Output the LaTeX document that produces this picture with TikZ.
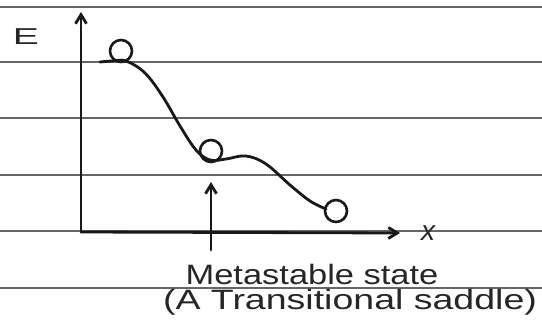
\documentclass[tikz,border=0pt]{standalone}
\usepackage{fontspec}
\setmainfont{Liberation Sans}
\usetikzlibrary{arrows.meta}
\begin{document}
\begin{tikzpicture}[x=1pt,y=-1pt,
  rule/.style={draw=black!60, line width=1.8pt},
  ink/.style={draw=black!90, line width=2.8pt, line cap=round, line join=round},
  ball/.style={circle, draw=black!90, line width=2.6pt, inner sep=0pt, minimum size=22pt},
  hand/.style={font=\fontsize{28}{30}\selectfont, text=black!85, inner sep=0pt},
  tip/.style={-{Straight Barb[length=9pt,width=11pt]}}]
\useasboundingbox (0,0) rectangle (542,329);
\fill[white] (0,0) rectangle (542,329);
% ruled paper lines
\foreach \yy in {7,62,118,175,231,288} \draw[rule] (0,\yy) -- (542,\yy);
% axes
\coordinate (origin) at (81,232);
\coordinate (ytop) at (81,12);
\coordinate (xend) at (400,233);
\draw[ink, tip] (origin) -- (ytop);
\draw[ink, tip] (origin) -- (xend);
\node[hand, font=\fontsize{23}{24}\selectfont] (E) at (26,37) {\scalebox{1.7}[1]{E}};
\node[hand, font=\itshape\fontsize{28}{30}\selectfont] (x) at (428,233) {x};
% energy curve
\draw[ink] plot[smooth, tension=0.6] coordinates {(100,62) (112,61) (126,61) (145,73) (163,97) (180,126) (196,150) (210,160) (226,159) (246,156) (266,164) (290,185) (310,201) (326,209)};
% balls
\node[ball] (b1) at (121,51) {};
\node[ball] (b2) at (211,151) {};
\node[ball] (b3) at (336,211) {};
% metastable pointer
\coordinate (mbot) at (211,250);
\coordinate (mtop) at (211,182);
\draw[ink, tip] (mbot) -- (mtop);
\node[hand] (lab1) at (312,274) {\scalebox{1.23}[1]{Metastable state}};
\node[hand] (lab2) at (350,302) {\scalebox{1.34}[1]{(A Transitional saddle)}};
\end{tikzpicture}
\end{document}
